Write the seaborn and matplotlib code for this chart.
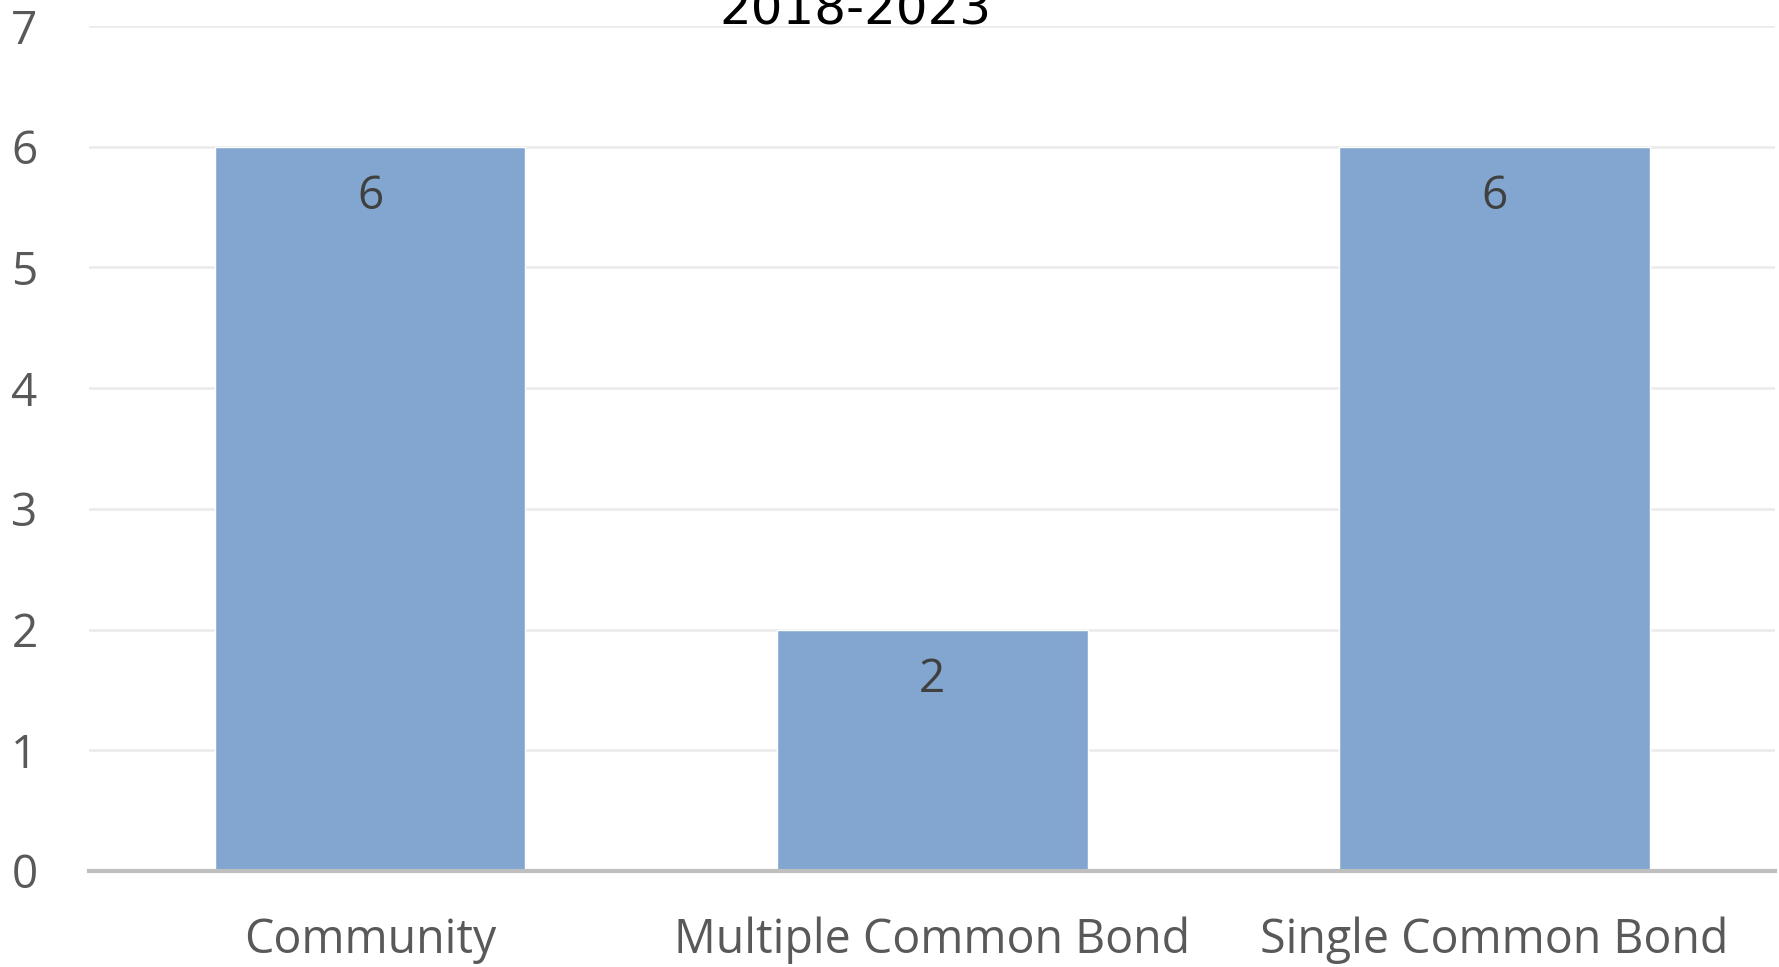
import matplotlib
matplotlib.use("Agg")
import matplotlib.pyplot as plt
import seaborn as sns
import pandas as pd

categories = ["Community", "Multiple Common Bond", "Single Common Bond"]
values = [6, 2, 6]
y_ticks = [0, 1, 2, 3, 4, 5, 6, 7]
title_text = "2018-2023"

sns.set_theme(style="white")
plt.rcParams['font.family'] = ['Open Sans', 'DejaVu Sans']

df = pd.DataFrame({"category": categories, "value": values})

fig = plt.figure(figsize=(17.79, 9.67), dpi=100)
ax = fig.add_axes([0.050, 0.0993, 0.948, 0.8738])

sns.barplot(data=df, x="category", y="value", color="#83A6D0", saturation=1,
            width=0.553, ax=ax, zorder=2)

ax.set_xlim(-0.5, 2.5)
ax.set_ylim(0, 7)
ax.set_yticks(y_ticks)
ax.set_xlabel("")
ax.set_ylabel("")
ax.yaxis.grid(True, color="#ececec", linewidth=2, zorder=0)
ax.set_axisbelow(True)
for s in ["top", "right", "left"]:
    ax.spines[s].set_visible(False)
ax.spines["bottom"].set_color("#bfbfbf")
ax.spines["bottom"].set_linewidth(3)
ax.spines["bottom"].set_zorder(3)

ax.tick_params(axis="y", length=0, pad=37, labelsize=33, labelcolor="#595959")
ax.tick_params(axis="x", length=0, pad=33, labelsize=33.5, labelcolor="#595959")

for cont in ax.containers:
    ax.bar_label(cont, labels=[str(v) for v in values], label_type="edge",
                 padding=-53, fontsize=33, color="#404040")

fig.text(0.481, 0.975, title_text, ha="center", va="baseline",
         fontsize=36, color="black", family=["DejaVu Sans"])

fig.savefig("out.png", dpi=100)
